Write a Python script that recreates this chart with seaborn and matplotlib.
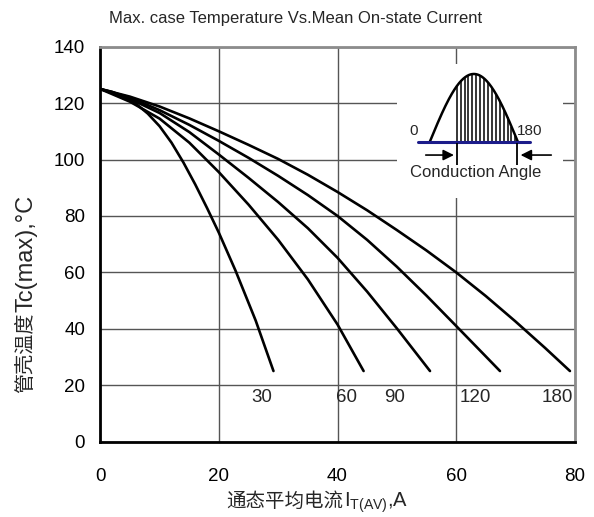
import numpy as np
import pandas as pd
import matplotlib
matplotlib.use("Agg")
import matplotlib.pyplot as plt
import seaborn as sns

# ---- data ----
angles = ["30", "60", "90", "120", "180"]
I_30 = [0, 2, 4, 6, 8, 10, 12, 14, 16, 18, 20, 22.8, 26.2, 29.2]
T_30 = [125, 124, 122.3, 119.8, 116.3, 111.8, 106, 99, 91.2, 82.8, 74, 60.6, 42.9, 25]
I_60 = [0, 5, 10, 15, 20, 25, 30, 35, 40, 44.4]
T_60 = [125, 120.5, 114.5, 106, 95.5, 84, 71.5, 57.5, 41.5, 25]
I_90 = [0, 5, 10, 15, 20, 25, 30, 35, 40, 45, 50, 55.6]
T_90 = [125, 121.5, 116.5, 109.75, 101.75, 93.5, 84.9, 75.65, 65.15, 53.15, 40.15, 25]
I_120 = [0, 5, 10, 15, 20, 25, 30, 35, 40, 45, 50, 55, 60, 65, 67.4]
T_120 = [125, 122, 117.5, 112.3, 106.6, 100.6, 94.2, 87.4, 80, 71.5, 62, 51.75, 41, 30.2, 25]
I_180 = [0, 5, 10, 15, 20, 25, 30, 35, 40, 45, 50, 55, 60, 65, 70, 75, 79.2]
T_180 = [125, 122.3, 118.8, 114.6, 110, 105.2, 100.2, 94.6, 88.5, 82, 75, 67.75, 60,
         51.6, 42.6, 33.2, 25]
label_x = [27.3, 41.6, 49.7, 63.2, 77.0]
label_y = 15.6
x_ticks = [0, 20, 40, 60, 80]
y_ticks = [0, 20, 40, 60, 80, 100, 120, 140]
hatch_angles = [55, 63, 71, 79, 87, 95, 103, 111, 119, 127, 135, 143, 151, 159, 167, 175]

title = "Max. case Temperature Vs.Mean On-state Current"
xlabel_cjk = "通态平均电流"
xlabel_lat = "I$_{\\mathregular{T(AV)}}$,A"
ylabel_cjk = "管壳温度"
ylabel_lat = "Tc(max),°C"

sns.set_theme(style="white")
plt.rcParams["font.family"] = ["Liberation Sans", "Noto Sans CJK SC", "DejaVu Sans"]
plt.rcParams["mathtext.fontset"] = "custom"
plt.rcParams["mathtext.rm"] = "Liberation Sans"

series = {"30": (I_30, T_30), "60": (I_60, T_60), "90": (I_90, T_90),
          "120": (I_120, T_120), "180": (I_180, T_180)}
df = pd.concat([pd.DataFrame({"I": v[0], "T": v[1], "angle": k}) for k, v in series.items()],
               ignore_index=True)

fig = plt.figure(figsize=(5.94, 5.17), dpi=100)
ax = fig.add_axes([0.1689, 0.146, 0.7986, 0.7636])

sns.lineplot(data=df, x="I", y="T", hue="angle", palette=["black"] * 5, legend=False,
             linewidth=1.9, sort=False, estimator=None, ax=ax, zorder=3)

ax.set_xlim(0, 80)
ax.set_ylim(0, 140)
ax.set_xticks(x_ticks)
ax.set_yticks(y_ticks)
ax.grid(True, color="#555555", linewidth=1.0)
ax.tick_params(axis="x", length=0, pad=19, labelsize=13.5, colors="black")
ax.tick_params(axis="y", length=0, pad=11, labelsize=13.5, colors="black")
ax.set_xlabel("")
ax.set_ylabel("")
for s in ["left", "bottom"]:
    ax.spines[s].set_color("black")
    ax.spines[s].set_linewidth(2)
for s in ["top", "right"]:
    ax.spines[s].set_color("#8c8c8c")
    ax.spines[s].set_linewidth(2)

for lab, lx in zip(angles, label_x):
    ax.text(lx, label_y, lab, ha="center", va="center", fontsize=13.5, zorder=4)

# ---- inset schematic ----
ins = ax.inset_axes([50.0, 86.3, 28.0, 47.6], transform=ax.transData, zorder=5)
ins.set_facecolor("white")
ins.set_xticks([])
ins.set_yticks([])
for s in ins.spines.values():
    s.set_visible(False)
ins.set_xlim(-67.5, 272)
ins.set_ylim(-0.832, 1.148)
theta = np.linspace(0, 180, 181)
ins.plot(theta, np.sin(np.radians(theta)), color="black", lw=1.8)
for a in hatch_angles:
    ins.vlines(a, 0, np.sin(np.radians(a)), color="black", lw=1.1)
ins.plot([-24.5, 204.5], [0, 0], color="#1c1c8a", lw=2.2)
ins.annotate("", xy=(55, -0.196), xytext=(-14, -0.196),
             arrowprops=dict(arrowstyle="-|>", color="black", lw=1.2, mutation_scale=16))
ins.vlines(55, -0.34, -0.02, color="black", lw=1.3)
ins.annotate("", xy=(180, -0.196), xytext=(254, -0.196),
             arrowprops=dict(arrowstyle="-|>", color="black", lw=1.2, mutation_scale=16))
ins.vlines(178, -0.34, -0.02, color="black", lw=1.3)
ins.text(-32.7, 0.158, "0", ha="center", va="center", fontsize=11)
ins.text(204, 0.158, "180", ha="center", va="center", fontsize=11)
ins.text(94, -0.45, "Conduction Angle", ha="center", va="center", fontsize=12)

# ---- titles / axis labels ----
fig.text(296 / 594, 1 - 23 / 517, title, ha="center", va="baseline", fontsize=12)

fig.text(343 / 594, 1 - 507 / 517, xlabel_cjk, ha="right", va="baseline", fontsize=14,
         family=["Noto Sans CJK SC"])
fig.text(343.5 / 594, 1 - 507 / 517, xlabel_lat, ha="left", va="baseline", fontsize=14.5,
         family=["Liberation Sans"])

fig.text(31 / 594, 1 - 393 / 517, ylabel_cjk, rotation=90, rotation_mode="anchor",
         ha="left", va="baseline", fontsize=14.5, family=["Noto Sans CJK SC"])
fig.text(32 / 594, 1 - 312 / 517, ylabel_lat, rotation=90, rotation_mode="anchor",
         ha="left", va="baseline", fontsize=17, family=["Liberation Sans"])

fig.savefig("out.png", dpi=100, facecolor="white")
